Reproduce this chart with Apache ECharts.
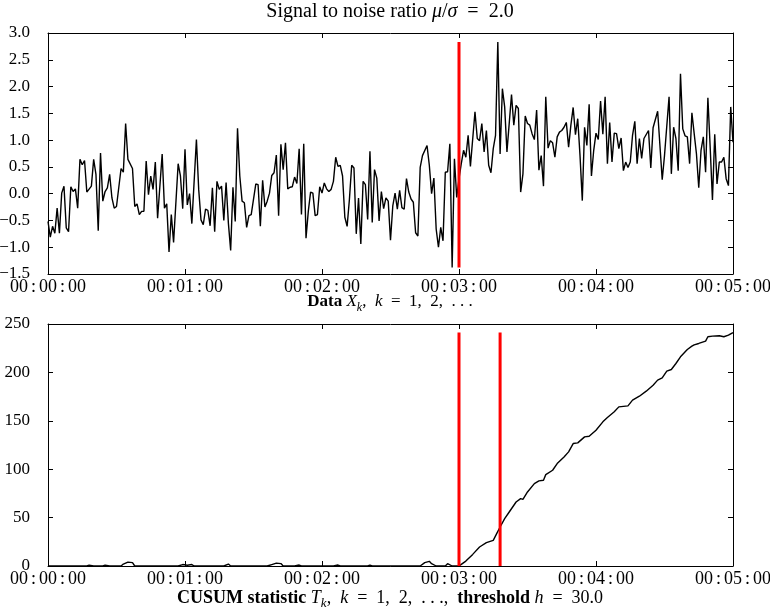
<!DOCTYPE html>
<html>
<head>
<meta charset="utf-8">
<script src="https://cdn.jsdelivr.net/npm/echarts@6/dist/echarts.min.js"></script>
<style>html,body{margin:0;padding:0;background:#fff}#c{width:770px;height:610px}</style>
</head>
<body>
<div id="c"></div>
<script>
// ---- data (seconds, value) ----
const dataTimes = [0,1,2,3,4,5,6,7,8,9,10,11,12,13,14,15,16,17,19,20,21,22,23,24,25,26,27,28,29,30,32,33,34,35,37,38,39,40,41,42,43,44,45,46,47,48,50,
51,52,53,54,55,57,58,59,60,61,62,63,65,66,67,68,69,70,71,72,73,74,75,76,77,78,79,80,81,82,83,84,85,86,87,88,89,91,92,93,94,95,96,97,98,99,100,
101,102,103,104,105,106,107,108,109,110,111,112,113,114,115,116,117,118,119,120,121,122,123,124,125,126,127,128,129,130,131,132,133,134,135,136,137,138,139,140,141,142,143,144,145,146,147,148,149,150,
151,152,153,154,155,156,157,158,159,160,161,162,163,164,166,167,168,169,170,171,172,173,174,175,176,177,178,179,180,181,182,183,184,185,187,188,189,190,191,192,193,194,195,196,197,198,199,200,201,
203,204,205,206,207,208,209,210,211,212,213,214,215,216,217,218,219,220,221,222,223,224,225,226,227,228,229,230,231,232,233,234,235,236,237,238,239,240,241,242,243,244,245,246,247,248,249,250,251,252,
253,254,255,256,257,258,259,260,261,263,264,265,267,269,270,272,273,274,275,276,277,278,279,280,281,282,283,284,285,286,287,288,289,290,291,292,293,294,295,296,297,298,299,300];
const dataValues = [-0.52,-0.81,-0.61,-0.74,-0.27,-0.74,0.01,0.14,-0.64,-0.71,0.13,0.04,0.09,-0.27,0.64,0.54,0.62,0.03,0.14,0.64,0.36,-0.69,0.76,-0.14,0.04,0.11,0.36,-0.08,-0.27,-0.24,0.47,0.40,1.31,0.64,0.47,-0.24,-0.19,-0.39,-0.33,-0.33,0.61,-0.02,0.33,0.08,0.59,-0.46,0.74,
-0.27,-0.19,-1.09,-0.39,-0.91,0.56,0.33,-0.28,0.83,-0.21,0.0,-0.56,1.01,0.08,-0.49,-0.58,-0.29,-0.31,-0.6,0.11,-0.71,0.23,0.08,0.14,-0.5,0.21,-0.55,-1.06,0.12,-0.52,1.22,0.33,-0.14,-0.17,-0.63,-0.41,-0.39,0.18,0.17,-0.61,0.25,-0.25,-0.14,0.01,0.34,0.39,0.72,
-0.41,0.92,0.45,0.95,0.09,0.12,0.13,0.31,0.19,0.84,-0.39,0.93,-0.83,-0.33,0.03,0.01,-0.41,-0.39,0.13,0.01,0.2,0.09,0.04,0.08,0.23,0.68,0.51,0.53,0.33,-0.44,-0.61,-0.11,0.53,0.48,-0.75,-0.08,-0.94,0.23,0.17,-0.48,0.79,-0.54,0.45,0.29,-0.51,0.04,-0.28,-0.08,-0.14,-0.87,
-0.23,0.01,-0.29,0.06,-0.26,-0.29,0.28,0.03,-0.1,-0.16,-0.73,-0.79,0.49,0.71,0.9,0.53,0.0,0.29,-0.66,-1.0,-0.63,-0.88,0.4,0.41,0.93,-1.38,0.65,-0.07,0.28,0.56,0.81,0.68,1.09,0.51,1.53,1.03,0.99,1.31,0.78,1.18,0.53,0.39,0.84,1.09,2.83,0.74,1.96,1.62,0.78,
1.85,1.28,1.65,1.59,0.03,0.37,1.45,1.31,1.28,1.12,1.01,1.56,0.44,0.71,0.14,1.81,0.85,0.99,0.95,0.68,1.06,1.15,1.18,1.24,1.33,0.87,1.28,1.61,1.1,1.4,0.71,-0.13,1.24,0.9,1.67,0.33,0.81,1.13,1.01,1.73,1.11,1.81,0.56,1.33,0.59,1.13,1.12,0.84,1.04,0.43,
0.59,0.49,0.59,1.09,1.35,0.56,1.03,0.66,1.03,1.18,0.48,1.23,1.54,0.26,0.71,1.81,0.37,1.24,1.03,0.43,2.24,1.21,1.08,1.06,0.56,1.51,1.12,0.74,0.11,0.81,1.06,0.4,1.79,0.87,-0.12,1.11,0.18,0.59,0.59,0.68,0.28,0.15,1.62,0.96];

const cusumTimes = [0,17,18,20,24,25,27,32,33,35,37,38,57,59,61,63,64,77,79,80,96,98,100,102,103,108,110,111,125,127,128,140,141,142,163,165,167,168,170,174,175,177,180,181,183,
186,189,192,195,196.5,198,200,202,205,207,208,210,213,215,217,218,221,223,226,228,230,232,235,237,240,243,245,248,250,254,256,259,262,265,267,269,271,273,275,277,280,282,283,285,288,289,291,294,296,298,300];
const cusumValues = [0,0,0.8,0,0,0.8,0,0,2,4,3.5,0,0,1.5,0.8,1.5,0,0,2,0,0,1.5,3,2.5,0,0,1,0,0,1,0,0,1,0,0,3.5,4.8,2.4,0,0,2.4,0,0,1.7,5.1,
12,19.6,24.1,26.5,33.4,40.3,48.9,55.8,66.1,69.6,68.9,76.5,85.1,87.9,88.6,94.4,98.9,105.8,112.7,117.9,126.5,127.2,133.4,134.1,140.3,148.9,153.4,159.3,164.4,165.4,171.3,175.4,180.6,186.8,192,194.4,201.3,203,209.2,216.1,223.7,227.1,228.5,229.9,232.3,236.8,237.5,237.8,236.8,238.5,241.2];

const changeTimes = [180];        // red line in the data panel
const alarmTimes = [180, 198];    // red lines in the CUSUM panel
const dataTicks = [-1.5, 3.0, 0.5];  // min, max, step
const cusumTicks = [0, 250, 50];
const timeTicks = [0, 300, 60];

// ---- chart ----
const FONT = 'Liberation Serif';
const SP = '\u2006';
function pad(n){ return (n < 10 ? '0' : '') + n; }
function hms(s){ s = Math.round(s); return [pad(Math.floor(s/3600)), pad(Math.floor(s/60)%60), pad(s%60)].join(SP + ':' + SP); }
function fmtNum(v, d){ const s = v.toFixed(d); return s.replace('-', '\u2212'); }
function pairs(ts, vs){ return ts.map((t,i)=>[t, vs[i]]); }

const dMin = Math.min(...dataValues), dMax = Math.max(...dataValues);
const cMin = Math.min(...cusumValues), cMax = Math.max(...cusumValues);

const grids = [
  {left: 48, right: 37, top: 33, height: 241, containLabel: false, outerBoundsMode: 'none'},
  {left: 48, right: 37, top: 324, height: 242, containLabel: false, outerBoundsMode: 'none'}
];
const axLine = {show: true, onZero: false, lineStyle: {color: '#000', width: 1}};
const tick = {show: true, inside: true, length: 5, lineStyle: {color: '#000', width: 1}};
const lblStyle = {color: '#000', fontFamily: FONT, fontSize: 17};

function xAxes(gi){
  return [
    {type: 'value', gridIndex: gi, position: 'bottom', min: timeTicks[0], max: timeTicks[1], interval: timeTicks[2],
     axisLine: axLine, axisTick: tick, splitLine: {show: false},
     axisLabel: Object.assign({}, lblStyle, {formatter: v => hms(v), margin: 4, hideOverlap: false, fontSize: 18})},
    {type: 'value', gridIndex: gi, position: 'top', min: timeTicks[0], max: timeTicks[1], interval: timeTicks[2],
     axisLine: axLine, axisTick: tick, splitLine: {show: false}, axisLabel: {show: false}}
  ];
}
function yAxes(gi, tk, dec){
  return [
    {type: 'value', gridIndex: gi, position: 'left', min: tk[0], max: tk[1], interval: tk[2],
     axisLine: axLine, axisTick: tick, splitLine: {show: false},
     axisLabel: Object.assign({formatter: v => fmtNum(v, dec), margin: 18}, lblStyle)},
    {type: 'value', gridIndex: gi, position: 'right', min: tk[0], max: tk[1], interval: tk[2],
     axisLine: axLine, axisTick: tick, splitLine: {show: false}, axisLabel: {show: false}}
  ];
}

const series = [
  {type: 'line', xAxisIndex: 0, yAxisIndex: 0, data: pairs(dataTimes, dataValues), showSymbol: false,
   lineStyle: {color: '#000', width: 1.4}, silent: true, z: 2, animation: false}
];
changeTimes.forEach(t => series.push({type: 'line', xAxisIndex: 0, yAxisIndex: 0, data: [[t, dMin],[t, dMax]],
   showSymbol: false, lineStyle: {color: '#ff0000', width: 3}, z: 3, animation: false}));
series.push({type: 'line', xAxisIndex: 2, yAxisIndex: 2, data: pairs(cusumTimes, cusumValues), showSymbol: false,
   lineStyle: {color: '#000', width: 1.4}, z: 2, animation: false});
alarmTimes.forEach(t => series.push({type: 'line', xAxisIndex: 2, yAxisIndex: 2, data: [[t, Math.max(cMin,0)],[t, cMax]],
   showSymbol: false, lineStyle: {color: '#ff0000', width: 3}, z: 3, animation: false}));

function mkRich(sz){
  return {
    n: {fontFamily: FONT, fontSize: sz, color: '#000', lineHeight: 24},
    b: {fontFamily: FONT, fontSize: sz, fontWeight: 'bold', color: '#000', lineHeight: 24},
    i: {fontFamily: FONT, fontSize: sz, fontStyle: 'italic', color: '#000', lineHeight: 24},
    s: {fontFamily: FONT, fontSize: Math.round(sz*0.7), fontStyle: 'italic', color: '#000', lineHeight: 13, verticalAlign: 'bottom'}
  };
}
function label(text, x, y, sz){
  return {type: 'text', x: x, y: y, style: {text: text, rich: mkRich(sz), align: 'center', verticalAlign: 'middle', fill: '#000'}};
}

const chart = echarts.init(document.getElementById('c'), null, {renderer: 'canvas'});
chart.setOption({
  animation: false,
  backgroundColor: '#fff',
  grid: grids,
  xAxis: xAxes(0).concat(xAxes(1)),
  yAxis: yAxes(0, dataTicks, 1).concat(yAxes(1, cusumTicks, 0)),
  series: series,
  graphic: [
    label('{n|Signal to noise ratio }{i|\u03bc}{n|/}{i|\u03c3}{n|  =  2.0}', 390, 12, 20),
    label('{b|Data }{i|X}{s|k}{n|,  }{i|k}{n|  =  1,  2,  . . .}', 390, 302, 17),
    label('{b|CUSUM statistic }{i|T}{s|k}{n|,  }{i|k}{n|  =  1,  2,  . . .,  }{b|threshold }{i|h}{n|  =  30.0}', 390, 598, 18)
  ]
});
</script>
</body>
</html>
